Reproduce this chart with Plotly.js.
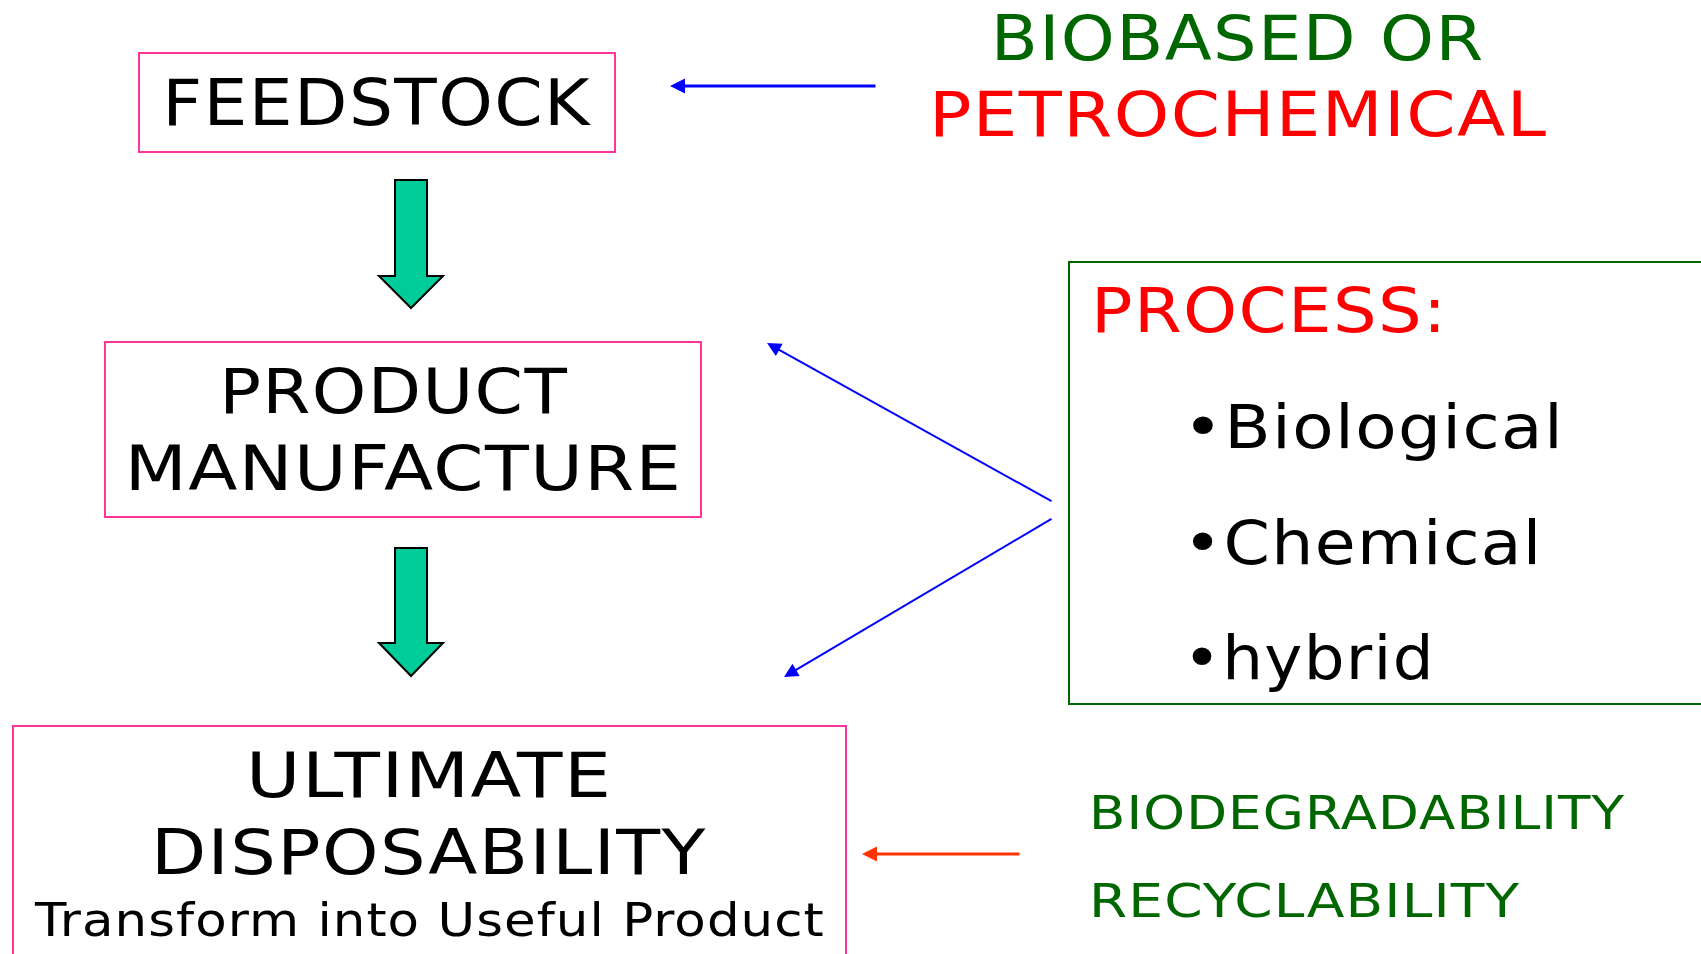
<!DOCTYPE html>
<html>
<head>
<meta charset="utf-8">
<script src="https://cdn.plot.ly/plotly-3.0.1.min.js"></script>
<style>
  html, body { margin: 0; padding: 0; background: #ffffff; }
  svg text.annotation-text { letter-spacing: 0.02em; }
</style>
</head>
<body>
<div id="chart" style="width:1701px;height:954px;"></div>
<script>
// ---- content (text) ----
const stageFeedstock = ['FEEDSTOCK'];
const stageManufacture = ['PRODUCT', 'MANUFACTURE'];
const stageDisposal = ['ULTIMATE', 'DISPOSABILITY'];
const disposalNote = ['Transform into Useful Product'];
const sourceLabels = ['BIOBASED OR', 'PETROCHEMICAL'];
const processTitle = ['PROCESS:'];
const processItems = ['•Biological', '•Chemical', '•hybrid'];
const endOfLife = ['BIODEGRADABILITY', 'RECYCLABILITY'];

// ---- layout geometry (pixel space of the 1701x954 canvas) ----
const FONT = 'DejaVu Sans, Verdana, sans-serif';
const PINK = '#FF3399', GREEN = '#006600', RED = '#FF0000', BLUE = '#0000FF',
      ORANGE = '#FF3300', TEAL = '#00CC99';

const annotations = [];
const stretch = [];   // horizontal glyph stretch per annotation (style)
function label(text, x, y, size, color, xanchor, k) {
  stretch[annotations.length] = { k: k, left: xanchor === 'left' };
  annotations.push({
    text: text, x: x, y: y, xref: 'x', yref: 'y',
    xanchor: xanchor || 'center', yanchor: 'middle',
    showarrow: false, font: { family: FONT, size: size, color: color }
  });
}
function arrow(x0, y0, x1, y1, color, width, size) {
  annotations.push({
    text: '', x: x1, y: y1, ax: x0, ay: y0,
    xref: 'x', yref: 'y', axref: 'x', ayref: 'y',
    showarrow: true, arrowhead: 2, arrowsize: size, arrowwidth: width,
    arrowcolor: color, standoff: 0, startstandoff: 0, font: { size: 1 }
  });
}

// stage labels
label(stageFeedstock[0], 377, 103, 64, '#000000', 'center', 1.085);
label(stageManufacture[0], 393, 391, 63, '#000000', 'center', 1.10);
label(stageManufacture[1], 403, 468, 63, '#000000', 'center', 1.14);
label(stageDisposal[0], 429, 775, 63, '#000000', 'center', 1.18);
label(stageDisposal[1], 429, 852, 63, '#000000', 'center', 1.14);
label(disposalNote[0], 429, 919, 47, '#000000', 'center', 1.095);

// feedstock sources
label(sourceLabels[0], 1237, 38, 63, GREEN, 'center', 1.09);
label(sourceLabels[1], 1238, 114, 63, RED, 'center', 1.12);

// process box contents
label(processTitle[0], 1089, 310, 62, RED, 'left', 1.11);
const itemY = [426, 542, 657];
const itemK = [1.11, 1.09, 1.055];
processItems.forEach((t, i) => label(t, 1181, itemY[i], 61, '#000000', 'left', itemK[i]));

// end of life
label(endOfLife[0], 1087, 812, 47, GREEN, 'left', 1.13);
label(endOfLife[1], 1087, 900, 47, GREEN, 'left', 1.17);

// thin arrows
arrow(877, 86, 670, 86, BLUE, 3, 1);
arrow(1053, 502, 767, 343, BLUE, 2, 1.4);
arrow(1053, 518, 784, 677, BLUE, 2, 1.4);
arrow(1021, 854, 862, 854, ORANGE, 3, 1);

// boxes and block arrows
function blockArrow(cx, top, baseY, tipY, halfShaft, halfHead) {
  return {
    type: 'path', xref: 'x', yref: 'y',
    path: `M${cx - halfShaft},${top} L${cx + halfShaft},${top} L${cx + halfShaft},${baseY} ` +
          `L${cx + halfHead},${baseY} L${cx},${tipY} L${cx - halfHead},${baseY} ` +
          `L${cx - halfShaft},${baseY} Z`,
    fillcolor: TEAL, line: { color: '#000000', width: 2 }
  };
}
const shapes = [
  { type: 'rect', xref: 'x', yref: 'y', x0: 139, y0: 53, x1: 615, y1: 152,
    line: { color: PINK, width: 2 }, fillcolor: 'rgba(0,0,0,0)' },
  { type: 'rect', xref: 'x', yref: 'y', x0: 105, y0: 342, x1: 701, y1: 517,
    line: { color: PINK, width: 2 }, fillcolor: 'rgba(0,0,0,0)' },
  { type: 'rect', xref: 'x', yref: 'y', x0: 13, y0: 726, x1: 846, y1: 980,
    line: { color: PINK, width: 2 }, fillcolor: 'rgba(0,0,0,0)' },
  { type: 'rect', xref: 'x', yref: 'y', x0: 1069, y0: 262, x1: 1730, y1: 704,
    line: { color: GREEN, width: 2 }, fillcolor: 'rgba(0,0,0,0)' },
  blockArrow(411, 180, 276, 308, 16, 32),
  blockArrow(411, 548, 643, 676, 16, 32)
];

const layout = {
  width: 1701, height: 954,
  margin: { l: 0, r: 0, t: 0, b: 0, pad: 0 },
  paper_bgcolor: '#ffffff', plot_bgcolor: '#ffffff',
  showlegend: false,
  xaxis: { range: [0, 1701], visible: false, fixedrange: true },
  yaxis: { range: [954, 0], visible: false, fixedrange: true },
  shapes: shapes,
  annotations: annotations
};

Plotly.newPlot('chart', [], layout, { displayModeBar: false, staticPlot: true }).then(gd => {
  gd.querySelectorAll('g.annotation').forEach(g => {
    const i = +g.getAttribute('data-index');
    const s = stretch[i];
    const t = g.querySelector('text.annotation-text');
    if (!s || !t) return;
    t.style.transformBox = 'fill-box';
    t.style.transformOrigin = s.left ? 'left center' : 'center';
    t.style.transform = 'scaleX(' + s.k + ')';
  });
});
</script>
</body>
</html>
